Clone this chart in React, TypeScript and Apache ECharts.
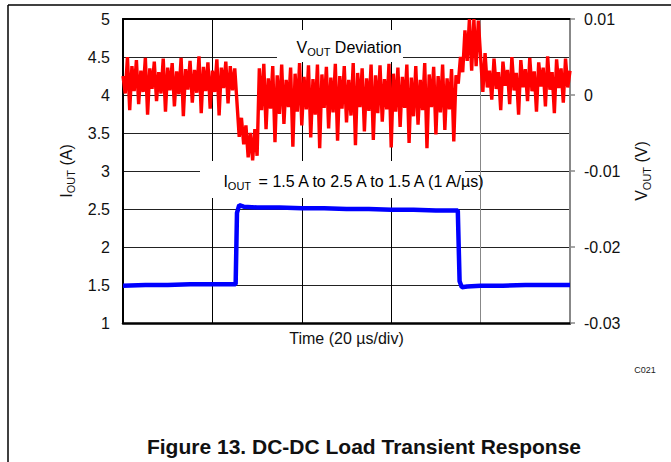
import React, { useEffect, useRef } from 'react';
import * as echarts from 'echarts';

// Time sampling of the VOUT trace (µs per sample), x axis spans 0..100 µs (20 µs/div)
const SAMPLE_STEP_US = 0.5;

// VOUT deviation, in mV (one sample every 0.5 µs, t = 0..100 µs)
const vOutSteady1Mv = [
  2.5, 0.2, 5.0, -2.0, 3.8, 0.5, 4.6, -1.2, 3.2, 0.4,
  4.9, -2.6, 3.5, 0.8, 4.4, -0.8, 3.0, 0.2, 4.8, -2.2,
  3.6, 0.6, 4.2, -1.5, 3.1, 0.1, 4.9, -2.8, 3.4, 0.7,
  4.5, -1.0, 3.3, 0.3, 5.1, -2.4, 3.7, 0.5, 4.3, -1.8,
  3.2, 0.4, 4.7, -2.7, 3.6, 0.9, 4.4, -1.1, 3.8, 0.6,
  3.5,
];
const vOutUndershootMv = [-1.0, -5.5, -3.0, -6.5, -4.0, -8.2, -5.0, -8.6, -4.5, -8.0];
const vOutHighLoadMv = [
  3.5, -2.0, 4.1, -4.5, 2.2, -1.8, 3.8, -6.2, 2.6, -2.5,
  4.0, -3.8, 2.0, -1.6, 3.6, -6.8, 2.8, -2.2, 4.2, -4.0,
  2.4, -1.9, 3.9, -5.6, 2.1, -2.6, 4.0, -7.0, 2.7, -1.7,
  3.7, -4.4, 2.3, -2.3, 4.1, -6.0, 2.5, -1.8, 3.8, -3.6,
  2.0, -2.7, 4.2, -6.6, 2.9, -1.6, 3.5, -4.8, 2.2, -2.1,
  4.0, -5.9, 2.6, -2.4, 3.9, -3.5, 2.1, -1.9, 4.1, -6.9,
  2.8, -2.2, 3.6, -4.2, 2.4, -1.7, 4.0, -6.3, 2.3, -2.8,
  3.8, -3.9, 2.0, -2.0, 4.2, -7.0, 2.7, -1.6, 3.7, -5.2,
  2.5, -2.3, 4.0, -4.6, 2.2, -1.9, 3.4, -6.1, 2.6,
];
const vOutOvershootMv = [1.5, 5.0, 3.0, 8.5, 4.5, 10.0, 3.2, 10.0, 3.8, 9.8, 5.0, 0.4];
const vOutSteady2Mv = [
  5.5, 1.0, 3.2, -0.6, 4.8, 0.8, 3.0, -2.0, 4.4, 1.2,
  3.3, -1.2, 5.0, 0.6, 2.9, -2.6, 4.6, 1.0, 3.4, -0.8,
  4.9, 0.5, 3.1, -2.2, 4.3, 1.1, 3.6, -1.5, 5.1, 0.7,
  3.0, -2.4, 4.7, 0.9, 3.5, -1.0, 4.8, 1.0, 3.2,
];

// IOUT trace (A) at given times (µs)
const iOutTimeUs = [0, 5, 10, 15, 20, 25.2, 25.5, 26, 27, 30, 35, 40, 45, 50, 55, 60, 65, 70, 74.9, 75.3, 75.8, 77, 80, 85, 90, 95, 100];
const iOutAmps = [1.49, 1.5, 1.5, 1.51, 1.51, 1.51, 2.45, 2.55, 2.53, 2.52, 2.52, 2.51, 2.51, 2.5, 2.5, 2.49, 2.49, 2.48, 2.48, 1.55, 1.47, 1.48, 1.49, 1.49, 1.5, 1.5, 1.5];

const FONT = '"Liberation Sans", Arial, Helvetica, sans-serif';

const subRich = {
  n: { fontSize: 16, color: '#111', fontFamily: FONT },
  s: { fontSize: 11, color: '#111', fontFamily: FONT, padding: [10, 0, 0, 0] },
};

export default function App() {
  const ref = useRef<HTMLDivElement>(null);

  useEffect(() => {
    if (!ref.current) return;
    const chart = echarts.init(ref.current, undefined, { renderer: 'svg' });

    const vOutMv = [
      ...vOutSteady1Mv,
      ...vOutUndershootMv,
      ...vOutHighLoadMv,
      ...vOutOvershootMv,
      ...vOutSteady2Mv,
    ];
    const redData = vOutMv.map((mv, i) => [i * SAMPLE_STEP_US, mv / 1000]);
    const blueData = iOutTimeUs.map((t, i) => [t, iOutAmps[i]]);

    const option: any = {
      animation: false,
      textStyle: { fontFamily: FONT },
      grid: { left: 123, right: 101, top: 19, bottom: 139, outerBoundsMode: 'none' },
      xAxis: [
        {
          type: 'value',
          min: 0,
          max: 100,
          interval: 20,
          position: 'bottom',
          axisLine: { show: true, onZero: false, lineStyle: { color: '#000', width: 2.5 } },
          axisTick: { show: false },
          axisLabel: { show: false },
          splitLine: {
            show: true,
            lineStyle: { color: ['#000', '#000', '#000', '#000', '#888', '#888'], width: 1 },
          },
          name: 'Time (20 µs/div)',
          nameLocation: 'middle',
          nameGap: 7,
          nameTextStyle: { fontSize: 16, color: '#111', verticalAlign: 'top' },
        },
        {
          type: 'value',
          min: 0,
          max: 100,
          position: 'top',
          axisLine: { show: true, onZero: false, lineStyle: { color: '#000', width: 2 } },
          axisTick: { show: false },
          axisLabel: { show: false },
          splitLine: { show: false },
        },
      ],
      yAxis: [
        {
          type: 'value',
          min: 1,
          max: 5,
          interval: 0.5,
          position: 'left',
          axisLine: { show: true, onZero: false, lineStyle: { color: '#000', width: 2 } },
          axisTick: { show: false },
          axisLabel: { fontSize: 16, color: '#111', margin: 13 },
          splitLine: { show: true, lineStyle: { color: '#222', width: 1 } },
          name: '{n|I}{s|OUT}{n| (A)}',
          nameLocation: 'middle',
          nameRotate: 90,
          nameGap: 44,
          nameTextStyle: { rich: subRich },
        },
        {
          type: 'value',
          min: -0.03,
          max: 0.01,
          interval: 0.01,
          position: 'right',
          axisLine: { show: true, onZero: false, lineStyle: { color: '#888', width: 2 } },
          axisTick: { show: true, length: 5, lineStyle: { color: '#888', width: 1.5 } },
          axisLabel: {
            fontSize: 16,
            color: '#111',
            margin: 14,
            formatter: (v: number) => (Math.abs(v) < 1e-9 ? '0' : String(Number(v.toFixed(2)))),
          },
          splitLine: { show: false },
          name: '{n|V}{s|OUT}{n| (V)}',
          nameLocation: 'middle',
          nameRotate: 90,
          nameGap: 61,
          nameTextStyle: { rich: subRich },
        },
      ],
      series: [
        {
          type: 'line',
          xAxisIndex: 0,
          yAxisIndex: 1,
          data: redData,
          symbol: 'none',
          lineStyle: { color: '#ff0000', width: 3.4, join: 'bevel' },
          z: 3,
        },
        {
          type: 'line',
          xAxisIndex: 0,
          yAxisIndex: 0,
          data: blueData,
          symbol: 'none',
          lineStyle: { color: '#0000ff', width: 4.5 },
          z: 4,
        },
      ],
      graphic: [
        { type: 'rect', z: 1, shape: { x: 277, y: 30, width: 126, height: 32 }, style: { fill: '#fff' } },
        { type: 'rect', z: 1, shape: { x: 200, y: 161, width: 265, height: 37 }, style: { fill: '#fff' } },
        {
          type: 'text',
          z: 5,
          x: 349,
          y: 47,
          style: {
            text: '{n|V}{s|OUT}{n| Deviation}',
            rich: subRich,
            align: 'center',
            verticalAlign: 'middle',
            textAlign: 'center',
            textVerticalAlign: 'middle',
          },
        },
        {
          type: 'text',
          z: 5,
          x: 355,
          y: 181,
          style: {
            text: '{n|I}{s|OUT}{n| = 1.5 A to 2.5 A to 1.5 A (1 A/µs)}',
            rich: subRich,
            align: 'center',
            verticalAlign: 'middle',
            textAlign: 'center',
            textVerticalAlign: 'middle',
          },
        },
        {
          type: 'text',
          x: 645,
          y: 370,
          style: {
            text: 'C021',
            fontSize: 9,
            fontFamily: FONT,
            fill: '#222',
            align: 'center',
            verticalAlign: 'middle',
            textAlign: 'center',
            textVerticalAlign: 'middle',
          },
        },
        {
          type: 'text',
          x: 364,
          y: 446,
          style: {
            text: 'Figure 13. DC-DC Load Transient Response',
            fontSize: 21,
            fontWeight: 'bold',
            fontFamily: FONT,
            fill: '#111',
            align: 'center',
            verticalAlign: 'middle',
            textAlign: 'center',
            textVerticalAlign: 'middle',
          },
        },
        { type: 'line', shape: { x1: 8, y1: 5, x2: 671, y2: 5 }, style: { stroke: '#000', lineWidth: 1.5 } },
        { type: 'line', shape: { x1: 8, y1: 5, x2: 8, y2: 462 }, style: { stroke: '#000', lineWidth: 1.5 } },
      ],
    };

    chart.setOption(option);
    return () => chart.dispose();
  }, []);

  return (
    <div
      ref={ref}
      style={{ position: 'absolute', left: 0, top: 0, width: 671, height: 462, background: '#fff' }}
    />
  );
}
